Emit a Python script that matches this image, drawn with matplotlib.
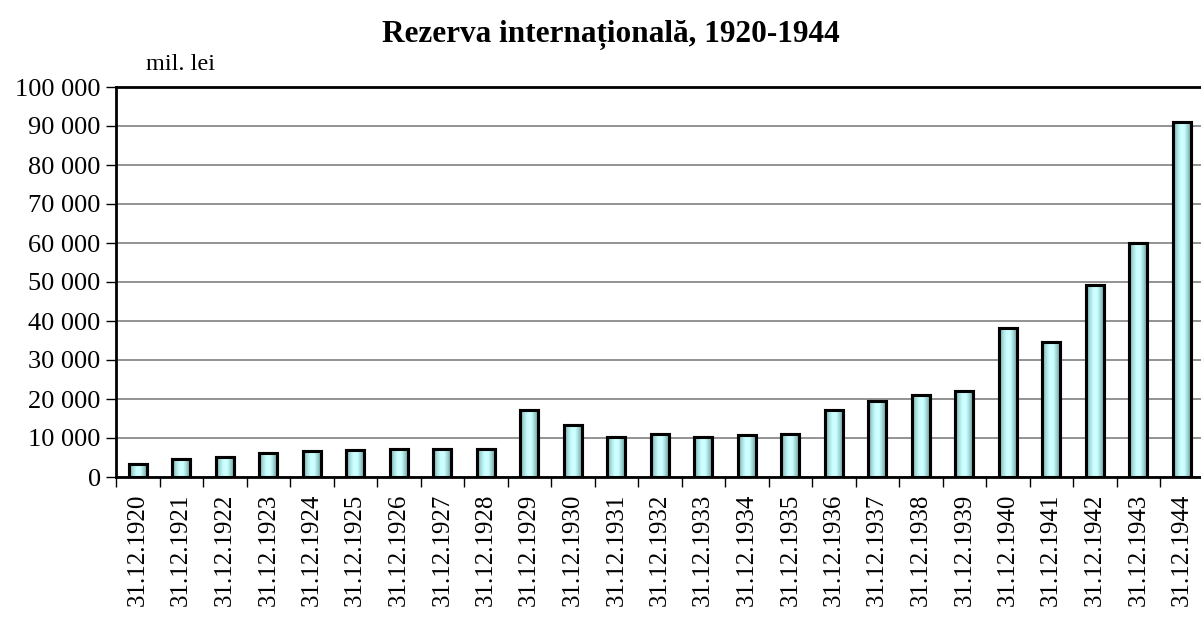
import numpy as np
import matplotlib.pyplot as plt
from matplotlib.colors import LinearSegmentedColormap
from matplotlib.ticker import FuncFormatter, MultipleLocator

# Date: rezerva internationala (mil. lei), la 31 decembrie
ani = list(range(1920, 1945))
etichete = ['31.12.%d' % a for a in ani]
rezerva = [3250, 4600, 5200, 6050, 6550, 6900, 7100, 7100, 7250,
           17100, 13400, 10350, 11000, 10350, 10750, 11100, 17250,
           19600, 21150, 22000, 38200, 34600, 49200, 60000, 91000]

plt.rcParams['font.family'] = ['Liberation Serif', 'DejaVu Serif']

fig = plt.figure(figsize=(12.01, 6.18), dpi=100)
W, H = 1201, 618
ax = fig.add_axes([116 / W, 1 - 477 / H, (1203.5 - 116) / W, (477 - 87) / H])

x = np.arange(len(ani))
latime = 0.42
bare = ax.bar(x, rezerva, width=latime, color='#CCFFFF', edgecolor='black',
              linewidth=2.2, zorder=3)

# gradient orizontal in interiorul barelor
cmap = LinearSegmentedColormap.from_list(
    'grad', ['#5E9C9C', '#A8DCDC', '#CCFFFF', '#CCFFFF', '#9ACDCD', '#4F8A8A'])
grad = np.linspace(0, 1, 64).reshape(1, -1)
for b in bare:
    x0, w, h = b.get_x(), b.get_width(), b.get_height()
    im = ax.imshow(grad, cmap=cmap, aspect='auto', extent=[x0, x0 + w, 0, h],
                   zorder=3.5, interpolation='bilinear')
    im.set_clip_path(b)
    ax.bar(x0 + w / 2, h, width=w, fill=False, edgecolor='black',
           linewidth=2.2, zorder=4)

ax.set_xlim(-0.5, len(ani) - 0.5)
ax.set_ylim(0, 100000)
ax.yaxis.set_major_locator(MultipleLocator(10000))
ax.yaxis.set_major_formatter(FuncFormatter(lambda v, p: f'{int(v):,}'.replace(',', ' ')))
ax.grid(axis='y', color='#808080', linewidth=1.2, zorder=1)
ax.set_axisbelow(True)

ax.set_xticks(x)
ax.set_xticklabels(etichete, rotation=90, fontsize=18, va='top')
ax.set_xticks(np.arange(-0.5, len(ani)), minor=True)
ax.tick_params(axis='x', which='major', length=0, pad=12)
ax.tick_params(axis='x', which='minor', length=7, width=1, direction='out')
ax.tick_params(axis='y', labelsize=19, length=7, width=1, pad=4)

for s in ['left', 'bottom', 'top']:
    ax.spines[s].set_linewidth(2)
    ax.spines[s].set_color('black')
ax.spines['right'].set_visible(False)

fig.text(611 / W, 1 - 35 / H, 'Rezerva internațională, 1920-1944', ha='center',
         va='center', fontsize=22.5, fontweight='bold')
fig.text(180 / W, 1 - 65 / H, 'mil. lei', ha='center', va='center', fontsize=17.5)

fig.savefig('out.png', dpi=100)
